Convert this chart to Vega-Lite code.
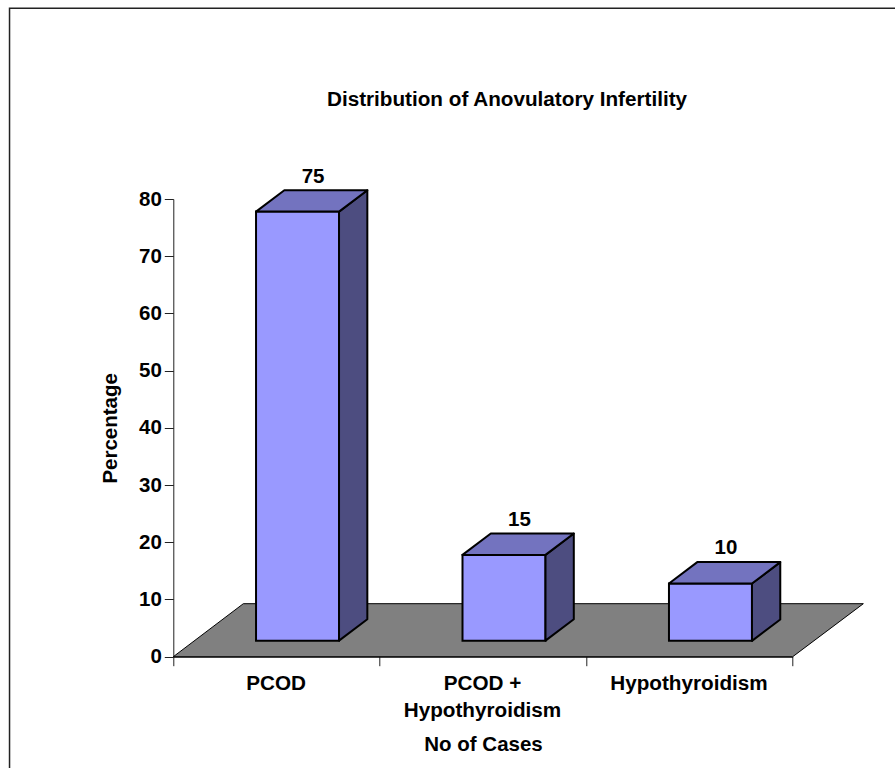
{
"$schema":"https://vega.github.io/schema/vega-lite/v6.json",
"autosize":{"type":"none"},
"width":619.4,"height":457.7,
"padding":{"left":173.3,"top":199,"right":102.3,"bottom":111.3},
"background":"white",
"config":{"view":{"stroke":null},"font":"Liberation Sans"},
"title":{"text":"Distribution of Anovulatory Infertility","font":"Liberation Sans","fontSize":20.7,"fontWeight":"bold","color":"black","anchor":"middle","dx":24,"offset":-105},
"data":{"values":[
{"category":"PCOD","value":75},
{"category":"PCOD + Hypothyroidism","value":15},
{"category":"Hypothyroidism","value":10}
]},
"encoding":{
"x":{"field":"category","type":"nominal","sort":null,"scale":{"type":"band","domain":["PCOD","PCOD + Hypothyroidism","Hypothyroidism"],"paddingInner":0,"paddingOuter":0},
"axis":{"title":"No of Cases","titleFont":"Liberation Sans","titleFontSize":20.5,"titleFontWeight":"bold","titleColor":"black","titlePadding":14,
"labelFont":"Liberation Sans","labelFontSize":20.7,"labelFontWeight":"bold","labelColor":"black","labelAngle":0,"labelPadding":8,"labelLineHeight":27,"labelLimit":300,
"labelExpr":"datum.label=='PCOD + Hypothyroidism'?['PCOD +','Hypothyroidism']:datum.label",
"labelOffset":-1,
"domainColor":"black","tickColor":"#222222","tickSize":9,"tickBand":"extent","grid":false}},
"y":{"field":"value","type":"quantitative","scale":{"domain":[0,80],"nice":false},
"axis":{"title":"Percentage","titleFont":"Liberation Sans","titleFontSize":20.5,"titleFontWeight":"bold","titleColor":"black","titlePadding":18,
"labelFont":"Liberation Sans","labelFontSize":20.5,"labelFontWeight":"bold","labelColor":"black","labelPadding":3,
"values":[0,10,20,30,40,50,60,70,80],"domainColor":"#222222","tickColor":"#222222","tickSize":9,"grid":false}}
},
"layer":[
{"mark":{"type":"point","shape":"M-267,111.3L-267,-648.4L618.5,-648.4","size":4,"filled":false,"fill":null,"stroke":"#222222","strokeWidth":1.5,"opacity":1,"clip":false},
 "transform":[{"filter":"datum.category=='PCOD'"}],
 "encoding":{"y":{"datum":0}}},
{"mark":{"type":"point","shape":"M-103.2,0L-33.2,-53L586.8,-53L516.2,0Z","size":4,"filled":true,"fill":"#808080","stroke":"black","strokeWidth":1,"opacity":1},
 "transform":[{"filter":"datum.category=='PCOD'"}],
 "encoding":{"y":{"datum":0}}},
{"mark":{"type":"bar","size":83,"fill":"#9999FF","stroke":"black","strokeWidth":2,"xOffset":21,"yOffset":-16,"y2Offset":-16}},
{"mark":{"type":"point","size":4,"filled":true,"fill":"#4D4D80","stroke":"black","strokeWidth":2,"opacity":1,"xOffset":62.5,"yOffset":-16,"strokeJoin":"round"},
 "encoding":{"shape":{"field":"category","type":"nominal","legend":null,"scale":{"domain":["PCOD","PCOD + Hypothyroidism","Hypothyroidism"],"range":["M0,0L28.3,-21.4L28.3,407.6L0,429Z","M0,0L28.3,-21.4L28.3,64.3L0,85.7Z","M0,0L28.3,-21.4L28.3,36L0,57.4Z"]}}}},
{"mark":{"type":"point","shape":"M0,0L-83,0L-54.7,-21.4L28.3,-21.4Z","size":4,"filled":true,"fill":"#7373BF","stroke":"black","strokeWidth":2,"opacity":1,"xOffset":62.5,"yOffset":-16,"strokeJoin":"round"}},
{"mark":{"type":"text","font":"Liberation Sans","fontSize":20.5,"fontWeight":"bold","color":"black","xOffset":36.5,"yOffset":-51,"baseline":"middle"},
 "encoding":{"text":{"field":"value","type":"quantitative"}}}
]
}
